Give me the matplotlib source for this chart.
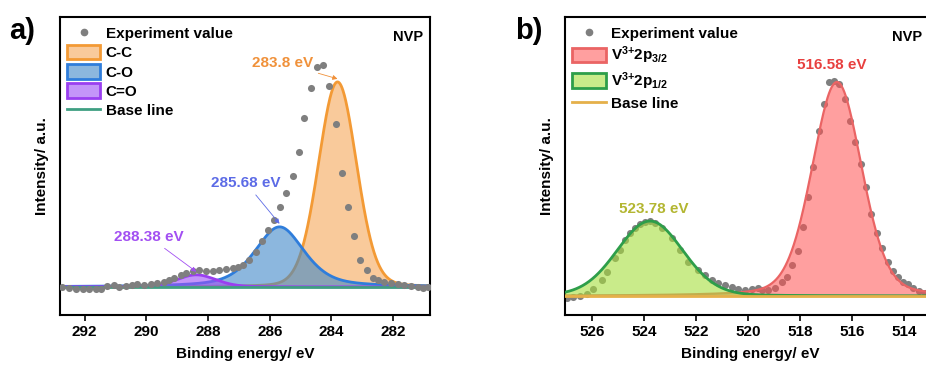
import numpy as np
import matplotlib
matplotlib.use("Agg")
import matplotlib.pyplot as plt
from matplotlib.patches import Patch
from matplotlib.lines import Line2D
from matplotlib.colors import to_rgba

plt.rcParams['font.family'] = ['Liberation Sans', 'DejaVu Sans']
plt.rcParams['font.weight'] = 'bold'
plt.rcParams['mathtext.fontset'] = 'custom'
plt.rcParams['mathtext.rm'] = 'Liberation Sans:bold'
plt.rcParams['mathtext.it'] = 'Liberation Sans:bold'
plt.rcParams['mathtext.bf'] = 'Liberation Sans:bold'
plt.rcParams['mathtext.default'] = 'rm'

# ---- C 1s spectrum (panel a) ----
c1s_energy = [292.72, 292.51, 292.29, 292.07, 291.86, 291.64, 291.48, 291.26, 291.05, 290.89,
              290.67, 290.45, 290.29, 290.07, 289.86, 289.64, 289.43, 289.26, 289.10, 288.88,
              288.72, 288.50, 288.29, 288.07, 287.85, 287.64, 287.42, 287.20, 287.04, 286.88,
              286.67, 286.45, 286.26, 286.07, 285.85, 285.66, 285.47, 285.26, 285.06, 284.88,
              284.66, 284.47, 284.28, 284.07, 283.85, 283.67, 283.47, 283.26, 283.06, 282.85,
              282.66, 282.50, 282.28, 282.06, 281.85, 281.63, 281.42, 281.20, 281.04, 280.87]
c1s_counts = [-0.1, -0.6, -0.8, -0.8, -0.8, -0.8, -1.1, 0.5, 1.0, -0.1,
              0.6, 1.0, 1.5, 1.0, 1.5, 1.8, 2.6, 3.4, 4.2, 5.9,
              7.0, 8.0, 8.3, 8.0, 8.0, 8.3, 8.9, 9.4, 9.9, 10.7,
              13.2, 17.2, 22.6, 27.8, 32.7, 39.2, 45.7, 54.1, 66.0, 82.3,
              96.9, 107.5, 108.3, 98.0, 79.4, 55.5, 38.9, 24.9, 13.2, 8.3,
              4.2, 3.4, 2.6, 1.8, 1.3, 1.0, 0.6, -0.1, -0.6, -0.1]

# fitted components: centre (eV), height, FWHM (eV), Lorentzian fraction
c1s_names = ['C-C', 'C-O', 'C=O']
c1s_center = [283.8, 285.68, 288.38]
c1s_height = [100.0, 29.3, 5.9]
c1s_fwhm = [1.45, 1.9, 1.5]
c1s_eta = [0.1, 0.5, 0.2]

# ---- V 2p spectrum (panel b) ----
v2p_energy = [526.99, 526.73, 526.47, 526.22, 525.96, 525.64, 525.45, 525.13, 524.93, 524.74,
              524.55, 524.36, 524.16, 523.97, 523.78, 523.59, 523.33, 522.94, 522.62, 522.30,
              521.92, 521.66, 521.40, 521.15, 520.89, 520.63, 520.38, 520.12, 519.86, 519.61,
              519.48, 519.22, 518.97, 518.71, 518.51, 518.30, 518.09, 517.88, 517.68, 517.49,
              517.27, 517.08, 516.87, 516.69, 516.49, 516.27, 516.08, 515.87, 515.67, 515.46,
              515.26, 515.05, 514.83, 514.63, 514.43, 514.24, 514.05, 513.83, 513.64, 513.41,
              513.19]
v2p_counts = [-0.8, -0.3, 0.0, 0.9, 3.3, 7.5, 11.4, 17.6, 21.5, 26.2,
              29.3, 31.6, 33.6, 34.7, 35.0, 34.3, 31.6, 27.0, 21.5, 16.0,
              12.1, 9.8, 7.5, 5.9, 5.1, 4.1, 3.1, 2.8, 3.1, 3.6,
              2.8, 2.8, 3.9, 6.7, 9.0, 14.5, 21.0, 32.4, 46.4, 60.1,
              77.1, 89.6, 100.1, 100.6, 98.9, 91.9, 81.8, 72.0, 61.7, 50.8,
              38.3, 29.3, 22.6, 15.7, 11.8, 8.7, 6.7, 5.6, 3.6, 2.5,
              1.5]

v2p_names = [r'$\mathrm{V^{3{+}}2p_{3/2}}$', r'$\mathrm{V^{3{+}}2p_{1/2}}$']
v2p_center = [516.58, 523.78]
v2p_height = [100.0, 35.0]
v2p_fwhm = [2.25, 3.0]
v2p_eta = [0.2, 0.1]

FS = 11


def pseudo_voigt(x, c, h, w, eta):
    u = (x - c) / w
    gauss = np.exp(-4 * np.log(2) * u ** 2)
    lorentz = 1.0 / (1.0 + 4 * u ** 2)
    return h * (eta * lorentz + (1 - eta) * gauss)


def style_axes(ax, xlim, ylim, ticks, nvp_x):
    ax.set_xlim(*xlim)
    ax.set_ylim(*ylim)
    ax.set_xticks(ticks)
    ax.set_yticks([])
    for s in ax.spines.values():
        s.set_linewidth(1.5)
    ax.tick_params(axis='x', direction='out', length=4, width=1.2, labelsize=FS, pad=3)
    ax.set_xlabel('Binding energy/ eV', fontsize=FS, fontweight='bold', labelpad=6)
    ax.set_ylabel('Intensity/ a.u.', fontsize=FS, fontweight='bold', labelpad=8)
    ax.text(nvp_x, 0.955, 'NVP', transform=ax.transAxes, ha='right', va='top',
            fontsize=10.5, fontweight='bold')


def add_legend(ax, handles, labels):
    ax.legend(handles, labels, loc='upper left', bbox_to_anchor=(0.0, 0.995),
              borderaxespad=0.1, frameon=False, fontsize=FS, handlelength=2.2,
              handleheight=1.1, labelspacing=0.25, handletextpad=0.35, borderpad=0.35)


fig = plt.figure(figsize=(9.26, 3.68), dpi=100)
ax1 = fig.add_axes([0.0648, 0.144, 0.3996, 0.81])
ax2 = fig.add_axes([0.6102, 0.144, 0.3996, 0.81])

# panel a
face_a = ['#f5a04a', '#3f88c8', '#9d4ff5']
edge_a = ['#f39a35', '#2f7ddb', '#9a3ff0']
alpha_a = [0.55, 0.6, 0.6]
xa = np.linspace(292.8, 280.8, 800)
for i in range(3):
    y = pseudo_voigt(xa, c1s_center[i], c1s_height[i], c1s_fwhm[i], c1s_eta[i])
    ax1.fill_between(xa, 0, y, facecolor=to_rgba(face_a[i], alpha_a[i]), lw=0, zorder=2 + i)
    ax1.plot(xa, y, color=edge_a[i], lw=2, zorder=2.5 + i)
ax1.axhline(0, color='#3f9f82', lw=2, zorder=6)
ax1.scatter(c1s_energy, c1s_counts, s=26, color='#7f7f7f', lw=0, zorder=7)
style_axes(ax1, (292.8, 280.8), (-13.7, 131.7), [292, 290, 288, 286, 284, 282], 0.982)

peak_label_colors = ['#f0913a', '#5c6be6', '#a24ff2']
label_pos_a = [(284.6, 109.3), (286.77, 50.7), (289.91, 24.4)]
for i, (tx, ty) in enumerate(label_pos_a):
    tip = pseudo_voigt(c1s_center[i], c1s_center[i], c1s_height[i], c1s_fwhm[i], c1s_eta[i])
    ha = 'right' if i == 0 else 'center'
    ax1.annotate(f'{c1s_center[i]:g} eV', xy=(c1s_center[i], tip + 1.5), xytext=(tx, ty),
                 ha=ha, va='center', fontsize=FS, fontweight='bold',
                 color=peak_label_colors[i], zorder=8,
                 arrowprops=dict(arrowstyle='-|>', color=peak_label_colors[i], lw=0.6,
                                 mutation_scale=7, shrinkA=2, shrinkB=0))

handles_a = [Line2D([], [], marker='o', ls='none', color='#7f7f7f', markersize=4.5)]
for i in range(3):
    handles_a.append(Patch(facecolor=to_rgba(face_a[i], alpha_a[i]), edgecolor=edge_a[i], lw=2))
handles_a.append(Line2D([], [], color='#3f9f82', lw=2))
add_legend(ax1, handles_a, ['Experiment value'] + c1s_names + ['Base line'])

# panel b
face_b = ['#ff5050', '#a6de3c']
edge_b = ['#ea6464', '#2e9e4a']
alpha_b = [0.55, 0.6]
xb = np.linspace(527.05, 512.8, 800)
ax2.scatter(v2p_energy, v2p_counts, s=26, color='#7f7f7f', lw=0, zorder=2)
for i in range(2):
    y = pseudo_voigt(xb, v2p_center[i], v2p_height[i], v2p_fwhm[i], v2p_eta[i])
    ax2.fill_between(xb, 0, y, facecolor=to_rgba(face_b[i], alpha_b[i]), lw=0, zorder=3 + i)
    ax2.plot(xb, y, color=edge_b[i], lw=1.6 if i == 0 else 2, zorder=3.5 + i)
ax2.axhline(0, color='#e5b04a', lw=2, zorder=6)
style_axes(ax2, (527.05, 512.8), (-8.9, 130.4), [526, 524, 522, 520, 518, 516, 514], 0.965)

label_colors_b = ['#e8403f', '#b3b631']
label_pos_b = [(516.77, 107.9), (523.62, 40.7)]
for i, (tx, ty) in enumerate(label_pos_b):
    ax2.text(tx, ty, f'{v2p_center[i]:g} eV', ha='center', va='center', fontsize=FS,
             fontweight='bold', color=label_colors_b[i], zorder=8)

handles_b = [Line2D([], [], marker='o', ls='none', color='#7f7f7f', markersize=4.5)]
for i in range(2):
    handles_b.append(Patch(facecolor=to_rgba(face_b[i], alpha_b[i]), edgecolor=edge_b[i], lw=2))
handles_b.append(Line2D([], [], color='#e5b04a', lw=2))
add_legend(ax2, handles_b, ['Experiment value'] + v2p_names + ['Base line'])

fig.text(0.010, 0.915, 'a)', fontsize=21, fontweight='bold', va='center')
fig.text(0.556, 0.915, 'b)', fontsize=21, fontweight='bold', va='center')

fig.savefig('out.png', dpi=100)
